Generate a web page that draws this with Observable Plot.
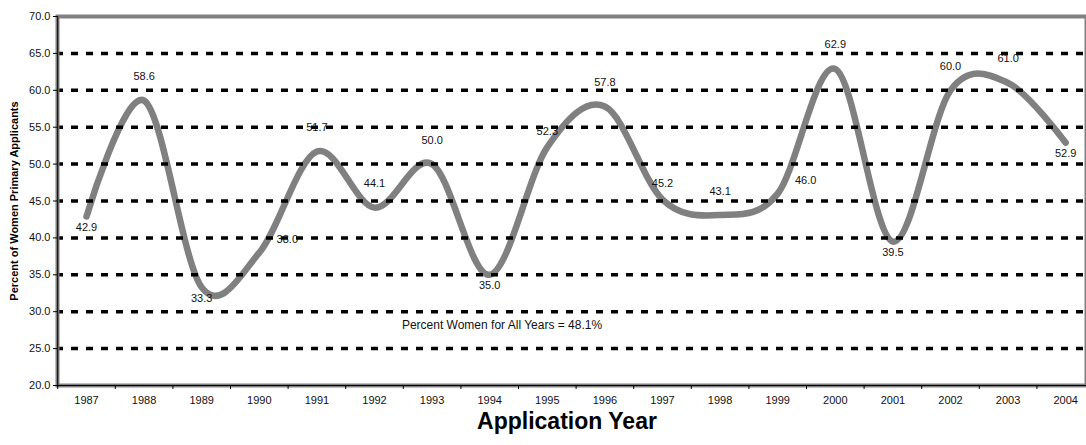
<!DOCTYPE html>
<html>
<head>
<meta charset="utf-8">
<script src="https://cdn.jsdelivr.net/npm/d3@7"></script>
<script src="https://cdn.jsdelivr.net/npm/@observablehq/plot@0.6"></script>
<style>
  html, body { margin: 0; padding: 0; background: #fff; overflow: hidden; }
  #chart svg { display: block; font-family: "Liberation Sans", Arial, sans-serif; }
</style>
</head>
<body>
<div id="chart"></div>
<script>
// ---- data ----
const years = [1987, 1988, 1989, 1990, 1991, 1992, 1993, 1994, 1995, 1996, 1997, 1998, 1999, 2000, 2001, 2002, 2003, 2004];
const percentWomen = [42.9, 58.6, 33.3, 38.0, 51.7, 44.1, 50.0, 35.0, 52.3, 57.8, 45.2, 43.1, 46.0, 62.9, 39.5, 60.0, 61.0, 52.9];
const labelPlacement = ["below", "above", "below", "right", "above", "above", "above", "below", "aboveNear", "above", "aboveNear", "above", "right", "above", "below", "above", "above", "below"];
const yTicks = [20, 25, 30, 35, 40, 45, 50, 55, 60, 65, 70];
const gridValues = [25, 30, 35, 40, 45, 50, 55, 60, 65];
const xTitle = "Application Year";
const yTitle = "Percent of Women Primary Applicants";
const note = "Percent Women for All Years = 48.1%";

// ---- layout ----
const placementOffset = {
  above: [0, -24],
  aboveNear: [0, -16],
  below: [0, 11],
  right: [28, -13]
};
const rows = years.map((year, i) => ({year, value: percentWomen[i], place: labelPlacement[i]}));
const boundaries = years.map(y => y - 0.5).concat([years[years.length - 1] + 0.5]);
const font = "Liberation Sans, Arial, sans-serif";

function labelMark(place) {
  const [dx, dy] = placementOffset[place];
  return Plot.text(rows.filter(d => d.place === place), {
    x: "year", y: "value", text: d => d.value.toFixed(1),
    dx, dy, fontSize: 11, fill: "#111", fontFamily: font
  });
}

const chart = Plot.plot({
  width: 1086,
  height: 445,
  marginTop: 16,
  marginBottom: 60,
  marginLeft: 57,
  marginRight: 0,
  style: {fontFamily: font, background: "#fff"},
  x: {type: "linear", domain: [years[0] - 0.5, years[years.length - 1] + 0.5], range: [57.2, 1094]},
  y: {domain: [20, 70]},
  marks: [
    Plot.line(rows, {x: "year", y: "value", curve: "cardinal", stroke: "#808080", strokeWidth: 6.5, strokeLinecap: "round", strokeLinejoin: "round"}),
    Plot.ruleY(gridValues, {stroke: "#000", strokeWidth: 3.5, strokeDasharray: "7,8", strokeDashoffset: 1}),
    Plot.frame({stroke: "#808080", strokeWidth: 4}),
    Plot.ruleX([years[0] - 0.5], {stroke: "#000", strokeWidth: 1}),
    Plot.ruleY([20], {stroke: "#000", strokeWidth: 1}),
    Plot.axisY({ticks: yTicks, tickFormat: d => d.toFixed(1), tickSize: 4, tickPadding: 3, fontSize: 11, label: null, stroke: "#000", fill: "#111"}),
    Plot.axisX({ticks: years, tickFormat: d => String(d), tickSize: 0, tickPadding: 11, fontSize: 11, label: null, fill: "#111"}),
    Plot.axisX({ticks: boundaries, tickFormat: () => "", tickSize: 4, label: null, stroke: "#000"}),
    ...Object.keys(placementOffset).map(labelMark),
    Plot.text([note], {frameAnchor: "bottom", dx: -70, dy: -57, fontSize: 12, fill: "#111", fontFamily: font}),
    Plot.text([xTitle], {frameAnchor: "bottom", textAnchor: "middle", dx: -5, dy: 43, fontSize: 23, fontWeight: "bold", fill: "#000", fontFamily: font}),
    Plot.text([yTitle], {frameAnchor: "left", textAnchor: "middle", rotate: -90, dx: -43.5, dy: 0, fontSize: 11, fontWeight: "bold", fill: "#000", fontFamily: font})
  ]
});
document.getElementById("chart").appendChild(chart);
</script>
</body>
</html>
